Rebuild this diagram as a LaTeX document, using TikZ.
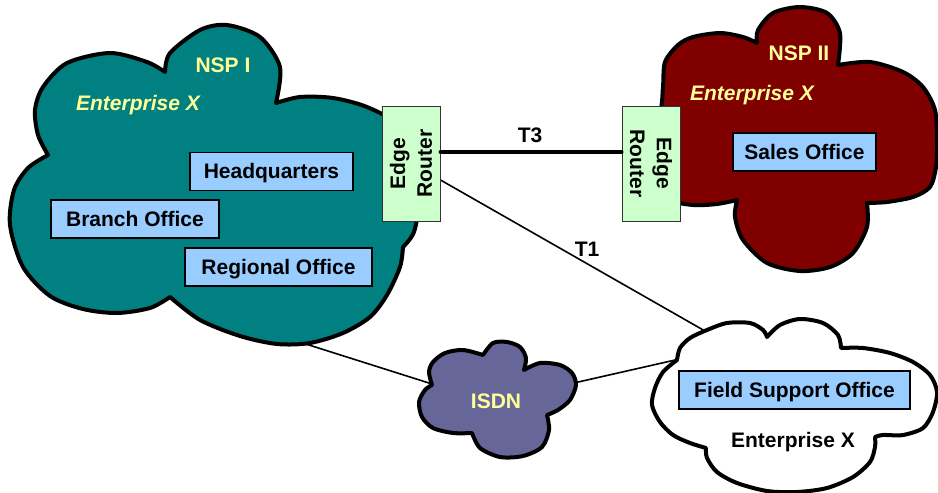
\documentclass[tikz,border=0pt]{standalone}
\usepackage{fontspec}
\setmainfont{Liberation Sans}
\definecolor{nspteal}{HTML}{008080}
\definecolor{nspmaroon}{HTML}{800000}
\definecolor{isdnblue}{HTML}{666699}
\definecolor{officeblue}{HTML}{99CCFF}
\definecolor{routergreen}{HTML}{CCFFCC}
\definecolor{labelyellow}{HTML}{FFFF99}
\newcommand\labelfont{\fontsize{21}{26.7}\selectfont\bfseries}
\tikzset{
  cloudline/.style={draw=black, line width=4pt, line join=round},
  officebox/.style={draw=black, line width=1.2pt, fill=officeblue,
    minimum height=38pt, inner sep=0pt, text height=14.5pt, text depth=0pt,
    font=\labelfont},
  routerbox/.style={draw=black!80, line width=1pt, fill=routergreen,
    minimum width=58pt, minimum height=115pt, inner sep=0pt},
  routertext/.style={inner sep=0pt, align=center, font=\labelfont},
  cloudtitle/.style={anchor=base, inner sep=0pt, font=\labelfont, text=labelyellow},
  linklabel/.style={anchor=base, inner sep=0pt, font=\labelfont},
  link/.style={line width=1.6pt},
  trunk/.style={line width=4pt, line cap=round},
}
\begin{document}
\begin{tikzpicture}[x=1pt, y=-1pt]
\useasboundingbox (0,0) rectangle (938,493);
\fill[white] (0,0) rectangle (938,493);

% connector end points (inside the clouds, hidden by their fill)
\coordinate (nspOneS)  at (290,339);
\coordinate (isdnW)    at (440,386.5);
\coordinate (isdnE)    at (565,385);
\coordinate (fieldW)   at (684,358);
\coordinate (fieldNW)  at (712,335);

% routers first, so that the links can leave from their sides
\node[routerbox] (erL) at (411,163.5) {};
\node[routerbox] (erR) at (651,163.5) {};

% links behind the clouds
\draw[link] ([yshift=-16.5pt]erL.east) -- (fieldNW);
\draw[link] (nspOneS) -- (isdnW);
\draw[link] (isdnE) -- (fieldW);

% NSP I cloud
\filldraw[cloudline, fill=nspteal] (48,155)
  --plot[smooth] coordinates {(48,155) (38,135) (35,110) (43,87) (67,63) (110,53) (147,62) (165,72)}
  --plot[smooth] coordinates {(165,72) (170,53) (200,30) (227,25) (260,37) (280,67) (276,103)}
  --plot[smooth] coordinates {(276,103) (300,97) (333,98) (367,107) (398,125) (414,160) (419,200) (414,232) (403,247)}
  --plot[smooth] coordinates {(403,247) (400,267) (387,295) (370,317) (343,333) (310,343) (277,344) (240,336) (200,320) (170,297)}
  --plot[smooth] coordinates {(170,297) (150,308) (117,313) (83,309) (50,296) (23,267) (10,225) (14,190) (28,168) (48,155)}
  -- cycle;

% NSP II cloud
\filldraw[cloudline, fill=nspmaroon] (757,43)
  --plot[smooth] coordinates {(757,43) (758,30) (773,13) (800,7) (827,13) (840,33) (838,65)}
  --plot[smooth] coordinates {(838,65) (870,62) (903,72) (923,87) (935,110) (937,140) (936,167) (930,187) (913,197) (887,202) (867,203)}
  --plot[smooth] coordinates {(867,203) (867,227) (853,253) (830,267) (800,271) (767,263) (743,240) (735,217) (737,200)}
  --plot[smooth] coordinates {(737,200) (717,204) (693,205) (668,200) (648,186) (640,165) (645,135) (660,112) (663,87) (665,62) (678,45) (693,37) (720,33) (743,37) (757,43)}
  -- cycle;

% ISDN cloud
\filldraw[cloudline, fill=isdnblue] (432,385)
  --plot[smooth] coordinates {(432,385) (429,372) (433,362) (445,353) (463,350) (483,355)}
  --plot[smooth] coordinates {(483,355) (493,343) (507,342) (520,347) (526,358) (524,370)}
  --plot[smooth] coordinates {(524,370) (540,363) (560,365) (572,373) (576,385) (570,400) (558,410) (547,415)}
  --plot[smooth] coordinates {(547,415) (549,430) (542,447) (523,456) (500,457) (480,448) (472,433)}
  --plot[smooth] coordinates {(472,433) (453,433) (433,428) (422,417) (419,402) (425,390) (432,385)}
  -- cycle;

% field office cloud
\filldraw[cloudline, fill=white] (677,360)
  --plot[smooth] coordinates {(677,360) (680,348) (690,338) (707,330) (727,323) (750,323) (763,330) (767,337)}
  --plot[smooth] coordinates {(767,337) (780,325) (800,319) (823,323) (838,335) (841,348)}
  --plot[smooth] coordinates {(841,348) (863,348) (890,353) (913,362) (930,375) (937,392) (933,412) (923,428) (903,435) (883,435) (875,437)}
  --plot[smooth] coordinates {(875,437) (875,447) (870,462) (853,477) (827,488) (797,492) (767,491) (737,483) (717,472) (707,458) (706,448)}
  --plot[smooth] coordinates {(706,448) (690,443) (673,435) (660,422) (652,405) (655,388) (663,372) (677,360)}
  -- cycle;

% routers on top of the clouds
\node[routerbox] at (erL) {};
\node[routerbox] at (erR) {};
\node[routertext, rotate=90]  (erLtext) at (erL.center) {Edge\\Router};
\node[routertext, rotate=-90] (erRtext) at (erR.center) {Edge\\Router};

% T3 trunk between the edge routers
\draw[trunk] ([yshift=11.5pt]erL.east) -- ([yshift=11.5pt]erR.west);
\node[linklabel] (t3) at (530,142) {T3};
\node[linklabel] (t1) at (587,256) {T1};

% offices
\node[officebox, minimum width=163pt] (hq)       at (271.5,171.5) {Headquarters};
\node[officebox, minimum width=168pt] (branch)   at (135,219)     {Branch Office};
\node[officebox, minimum width=187pt] (regional) at (278.5,267)   {Regional Office};
\node[officebox, minimum width=143pt] (sales)    at (804.5,152)   {Sales Office};
\node[officebox, minimum width=231pt] (field)    at (794.5,390)   {Field Support Office};

% cloud titles
\node[cloudtitle] (nspOne)  at (223,72)    {NSP I};
\node[cloudtitle, font=\labelfont\itshape] (entOne) at (138,110) {Enterprise X};
\node[cloudtitle] (nspTwo)  at (799,60)    {NSP II};
\node[cloudtitle, font=\labelfont\itshape] (entTwo) at (752,100.7) {Enterprise X};
\node[cloudtitle] (isdn)    at (496,408)   {ISDN};
\node[linklabel]  (entField) at (793,447)  {Enterprise X};
\end{tikzpicture}
\end{document}
